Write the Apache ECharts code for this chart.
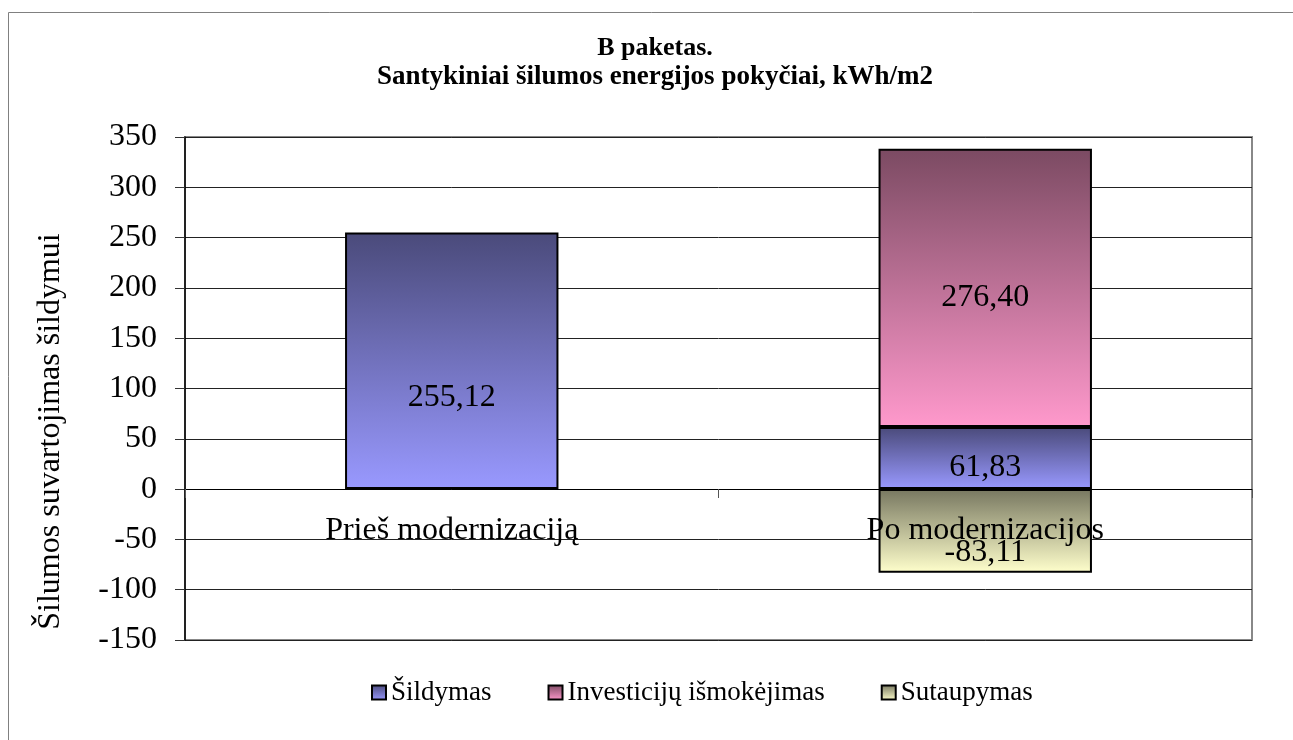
<!DOCTYPE html>
<html>
<head>
<meta charset="utf-8">
<script src="https://cdn.jsdelivr.net/npm/echarts@6/dist/echarts.min.js"></script>
<style>
  html, body { margin: 0; padding: 0; background: #fff; }
  #chart { width: 1293px; height: 740px; }
</style>
</head>
<body>
<div id="chart"></div>
<script>
var categories = ['Prieš modernizaciją', 'Po modernizacijos'];
var seriesNames = ['Šildymas', 'Investicijų išmokėjimas', 'Sutaupymas'];
var sildymas = [255.12, 61.83];
var investicijos = [null, 276.40];
var sutaupymas = [null, -83.11];
var yTicks = { min: -150, max: 350, interval: 50 };

var font = 'Liberation Serif';

function grad(top, bottom) {
	return {
		type : 'linear', x : 0, y : 0, x2 : 0, y2 : 1,
		colorStops : [ { offset : 0, color : top }, { offset : 1, color : bottom } ]
	};
}

function fmt(p) {
	return p.value == null ? '' : p.value.toFixed(2).replace('.', ',');
}

// Excel drops the value labels a little below the middle of each segment
function barSeries(name, values, fill, shifts) {
	return {
		name : name,
		type : 'bar',
		stack : 'total',
		barWidth : '40%',
		data : values.map(function(v, i) {
			return { value : v, label : { offset : [ 0, shifts[i] ] } };
		}),
		itemStyle : {
			color : fill,
			borderColor : '#000',
			borderWidth : 2
		},
		label : {
			show : true,
			position : 'inside',
			formatter : fmt,
			color : '#000',
			fontFamily : font,
			fontSize : 32
		}
	};
}

var chart = echarts.init(document.getElementById('chart'));
var option = {
	backgroundColor : '#fff',
	animation : false,
	graphic : [ {
		type : 'rect',
		shape : { x : 8.5, y : 12.5, width : 1320, height : 800 },
		style : { fill : 'none', stroke : '#808080', lineWidth : 1 }
	} ],
	title : {
		text : 'B paketas.',
		subtext : 'Santykiniai šilumos energijos pokyčiai, kWh/m2',
		left : 650,
		textAlign : 'center',
		top : 30,
		itemGap : 3,
		textStyle : { fontFamily : font, fontSize : 26, fontWeight : 'bold', color : '#000' },
		subtextStyle : { fontFamily : font, fontSize : 27, fontWeight : 'bold', color : '#000' }
	},
	legend : {
		data : seriesNames,
		left : 366,
		top : 674,
		icon : 'rect',
		itemWidth : 14,
		itemHeight : 14,
		itemGap : 56,
		itemStyle : { borderColor : '#000', borderWidth : 2 },
		textStyle : { fontFamily : font, fontSize : 27, color : '#000' }
	},
	grid : {
		left : 185,
		right : 41,
		top : 137,
		bottom : 100,
		show : true,
		borderColor : '#888',
		borderWidth : 2
	},
	xAxis : {
		type : 'category',
		data : categories,
		z : 5,
		offset : -151,
		axisLine : { onZero : false, lineStyle : { color : '#000', width : 1 } },
		axisTick : { show : true, length : 9, lineStyle : { color : '#555' } },
		axisLabel : { fontFamily : font, fontSize : 32, color : '#000', margin : 26 }
	},
	yAxis : {
		type : 'value',
		min : yTicks.min,
		max : yTicks.max,
		interval : yTicks.interval,
		name : 'Šilumos suvartojimas šildymui',
		nameLocation : 'middle',
		nameGap : 118,
		nameTextStyle : { fontFamily : font, fontSize : 32, color : '#000', padding : [ 0, 86, 0, 0 ] },
		axisLine : { show : true, lineStyle : { color : '#000', width : 1.5 } },
		axisTick : { show : true, length : 10, lineStyle : { color : '#333' } },
		axisLabel : { fontFamily : font, fontSize : 32, color : '#000', margin : 28 },
		splitLine : { lineStyle : { color : '#222', width : 1 } }
	},
	series : [
		barSeries(seriesNames[0], sildymas, grad('#4a4a7a', '#9999ff'), [ 37, 10 ]),
		barSeries(seriesNames[1], investicijos, grad('#7b4a62', '#ff99cc'), [ 0, 10 ]),
		barSeries(seriesNames[2], sutaupymas, grad('#777760', '#ffffcc'), [ 0, 22 ])
	]
};
chart.setOption(option);
</script>
</body>
</html>
